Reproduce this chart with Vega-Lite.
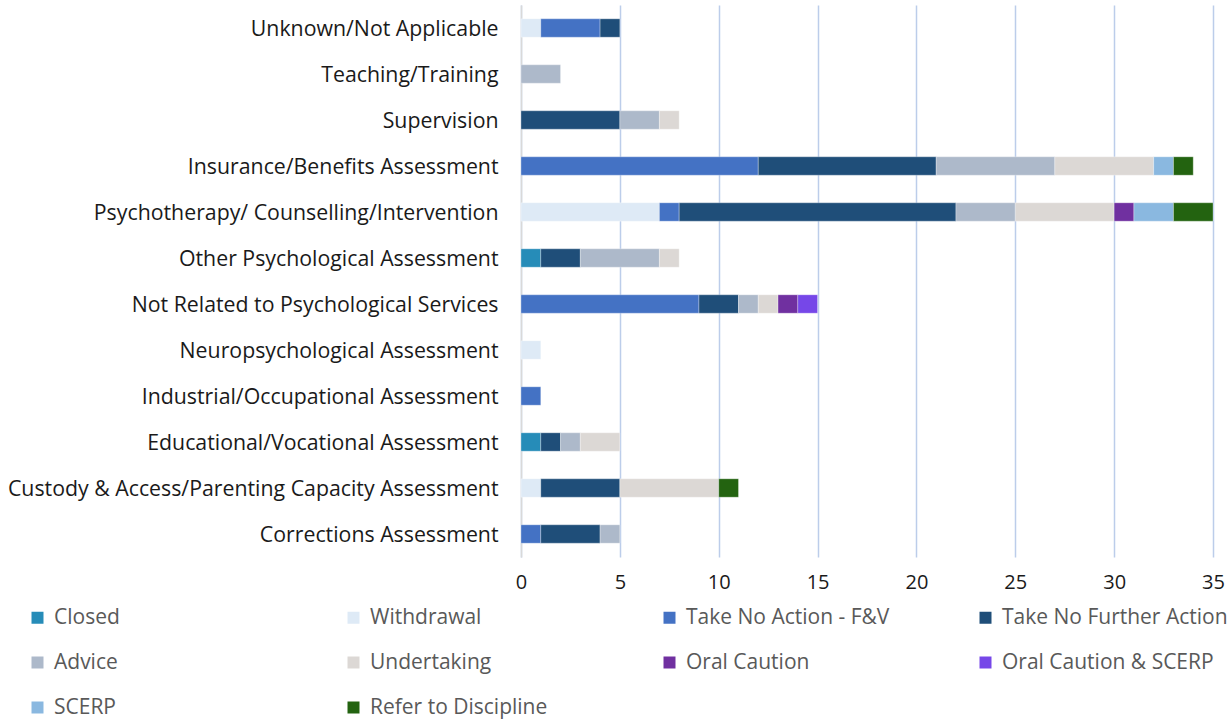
{
  "$schema": "https://vega.github.io/schema/vega-lite/v6.json",
  "autosize": {"type": "none"},
  "padding": {"left": 521, "top": 5, "right": 19, "bottom": 164},
  "width": 692,
  "height": 552,
  "background": "white",
  "config": {
    "view": {"stroke": null},
    "font": "Open Sans"
  },
  "datasets": {
    "cases": [
      {"area": "Unknown/Not Applicable", "outcome": "Withdrawal", "count": 1},
      {"area": "Unknown/Not Applicable", "outcome": "Take No Action - F&V", "count": 3},
      {"area": "Unknown/Not Applicable", "outcome": "Take No Further Action", "count": 1},
      {"area": "Teaching/Training", "outcome": "Advice", "count": 2},
      {"area": "Supervision", "outcome": "Take No Further Action", "count": 5},
      {"area": "Supervision", "outcome": "Advice", "count": 2},
      {"area": "Supervision", "outcome": "Undertaking", "count": 1},
      {"area": "Insurance/Benefits Assessment", "outcome": "Take No Action - F&V", "count": 12},
      {"area": "Insurance/Benefits Assessment", "outcome": "Take No Further Action", "count": 9},
      {"area": "Insurance/Benefits Assessment", "outcome": "Advice", "count": 6},
      {"area": "Insurance/Benefits Assessment", "outcome": "Undertaking", "count": 5},
      {"area": "Insurance/Benefits Assessment", "outcome": "SCERP", "count": 1},
      {"area": "Insurance/Benefits Assessment", "outcome": "Refer to Discipline", "count": 1},
      {"area": "Psychotherapy/ Counselling/Intervention", "outcome": "Withdrawal", "count": 7},
      {"area": "Psychotherapy/ Counselling/Intervention", "outcome": "Take No Action - F&V", "count": 1},
      {"area": "Psychotherapy/ Counselling/Intervention", "outcome": "Take No Further Action", "count": 14},
      {"area": "Psychotherapy/ Counselling/Intervention", "outcome": "Advice", "count": 3},
      {"area": "Psychotherapy/ Counselling/Intervention", "outcome": "Undertaking", "count": 5},
      {"area": "Psychotherapy/ Counselling/Intervention", "outcome": "Oral Caution", "count": 1},
      {"area": "Psychotherapy/ Counselling/Intervention", "outcome": "SCERP", "count": 2},
      {"area": "Psychotherapy/ Counselling/Intervention", "outcome": "Refer to Discipline", "count": 2},
      {"area": "Other Psychological Assessment", "outcome": "Closed", "count": 1},
      {"area": "Other Psychological Assessment", "outcome": "Take No Further Action", "count": 2},
      {"area": "Other Psychological Assessment", "outcome": "Advice", "count": 4},
      {"area": "Other Psychological Assessment", "outcome": "Undertaking", "count": 1},
      {"area": "Not Related to Psychological Services", "outcome": "Take No Action - F&V", "count": 9},
      {"area": "Not Related to Psychological Services", "outcome": "Take No Further Action", "count": 2},
      {"area": "Not Related to Psychological Services", "outcome": "Advice", "count": 1},
      {"area": "Not Related to Psychological Services", "outcome": "Undertaking", "count": 1},
      {"area": "Not Related to Psychological Services", "outcome": "Oral Caution", "count": 1},
      {"area": "Not Related to Psychological Services", "outcome": "Oral Caution & SCERP", "count": 1},
      {"area": "Neuropsychological Assessment", "outcome": "Withdrawal", "count": 1},
      {"area": "Industrial/Occupational Assessment", "outcome": "Take No Action - F&V", "count": 1},
      {"area": "Educational/Vocational Assessment", "outcome": "Closed", "count": 1},
      {"area": "Educational/Vocational Assessment", "outcome": "Take No Further Action", "count": 1},
      {"area": "Educational/Vocational Assessment", "outcome": "Advice", "count": 1},
      {"area": "Educational/Vocational Assessment", "outcome": "Undertaking", "count": 2},
      {"area": "Custody & Access/Parenting Capacity Assessment", "outcome": "Withdrawal", "count": 1},
      {"area": "Custody & Access/Parenting Capacity Assessment", "outcome": "Take No Further Action", "count": 4},
      {"area": "Custody & Access/Parenting Capacity Assessment", "outcome": "Undertaking", "count": 5},
      {"area": "Custody & Access/Parenting Capacity Assessment", "outcome": "Refer to Discipline", "count": 1},
      {"area": "Corrections Assessment", "outcome": "Take No Action - F&V", "count": 1},
      {"area": "Corrections Assessment", "outcome": "Take No Further Action", "count": 3},
      {"area": "Corrections Assessment", "outcome": "Advice", "count": 1}
    ]
  },
  "data": {"name": "cases"},
  "transform": [
    {"calculate": "indexof(['Closed','Withdrawal','Take No Action - F&V','Take No Further Action','Advice','Undertaking','Oral Caution','Oral Caution & SCERP','SCERP','Refer to Discipline'], datum.outcome)", "as": "ord"}
  ],
  "mark": {"type": "bar", "stroke": "white", "strokeWidth": 0.5, "strokeOpacity": 0.6},
  "encoding": {
    "y": {
      "field": "area",
      "type": "nominal",
      "sort": ["Unknown/Not Applicable","Teaching/Training","Supervision","Insurance/Benefits Assessment","Psychotherapy/ Counselling/Intervention","Other Psychological Assessment","Not Related to Psychological Services","Neuropsychological Assessment","Industrial/Occupational Assessment","Educational/Vocational Assessment","Custody & Access/Parenting Capacity Assessment","Corrections Assessment"],
      "scale": {"paddingInner": 0.6, "paddingOuter": 0.3},
      "axis": {
        "title": null,
        "ticks": false,
        "domain": true,
        "domainColor": "#D9D9D9",
        "domainWidth": 1.5,
        "labelFont": "Open Sans",
        "labelFontSize": 21.3,
        "labelColor": "#1a1a1a",
        "labelPadding": 23,
        "labelLimit": 600,
        "labelBaseline": "middle",
        "labelOffset": 2
      }
    },
    "x": {
      "field": "count",
      "type": "quantitative",
      "stack": "zero",
      "scale": {"domain": [0, 35], "nice": false},
      "axis": {
        "title": null,
        "values": [0, 5, 10, 15, 20, 25, 30, 35],
        "ticks": false,
        "domain": false,
        "grid": true,
        "gridColor": "#BCCDEA",
        "gridWidth": 1.5,
        "labelFont": "Open Sans",
        "labelFontSize": 20,
        "labelColor": "#1a1a1a",
        "labelPadding": 15,
        "labelFlush": false
      }
    },
    "color": {
      "field": "outcome",
      "type": "nominal",
      "scale": {
        "domain": ["Closed","Withdrawal","Take No Action - F&V","Take No Further Action","Advice","Undertaking","Oral Caution","Oral Caution & SCERP","SCERP","Refer to Discipline"],
        "range": ["#268CB8","#DEEAF6","#4472C4","#1F4E79","#ADB9CA","#DCD8D5","#7030A0","#7647E8","#8AB8E0","#236310"]
      },
      "legend": {
        "title": null,
        "orient": "none",
        "legendX": -494,
        "legendY": 602,
        "direction": "horizontal",
        "columns": 4,
        "gridAlign": "all",
        "columnPadding": 63,
        "rowPadding": 23,
        "symbolType": "square",
        "symbolSize": 144,
        "symbolStrokeWidth": 0,
        "labelOffset": 6,
        "labelFont": "Open Sans",
        "labelFontSize": 21,
        "labelColor": "#595959",
        "labelLimit": 400
      }
    },
    "order": {"field": "ord", "type": "quantitative"}
  }
}
